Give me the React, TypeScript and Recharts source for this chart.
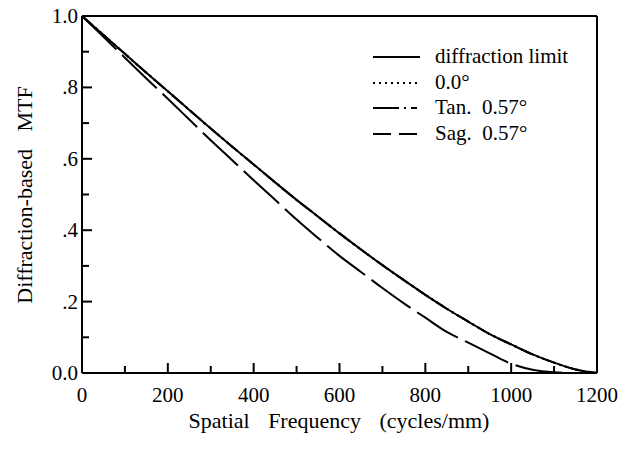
import React from "react";
import { LineChart, Line, XAxis, YAxis, ReferenceLine, Label } from "recharts";

const frequency = [0, 50, 100, 150, 200, 250, 300, 350, 400, 450, 500, 550, 600, 650, 700, 750, 800, 850, 900, 950, 1000, 1050, 1100, 1150, 1200];
const diffractionLimit = [1.0, 0.947, 0.894, 0.841, 0.789, 0.737, 0.685, 0.634, 0.584, 0.534, 0.485, 0.438, 0.391, 0.346, 0.302, 0.26, 0.219, 0.18, 0.144, 0.109, 0.08, 0.052, 0.029, 0.01, 0];
const onAxis = [1.0, 0.947, 0.894, 0.841, 0.789, 0.737, 0.685, 0.634, 0.584, 0.534, 0.485, 0.438, 0.391, 0.346, 0.302, 0.26, 0.219, 0.18, 0.144, 0.109, 0.08, 0.052, 0.029, 0.01, 0];
const tan057 = [1.0, 0.947, 0.894, 0.841, 0.789, 0.737, 0.685, 0.634, 0.584, 0.534, 0.485, 0.438, 0.391, 0.346, 0.302, 0.26, 0.219, 0.18, 0.144, 0.109, 0.08, 0.052, 0.029, 0.01, 0];
const sag057 = [1.0, 0.942, 0.883, 0.825, 0.768, 0.71, 0.652, 0.596, 0.54, 0.485, 0.43, 0.378, 0.328, 0.283, 0.238, 0.195, 0.155, 0.115, 0.085, 0.055, 0.026, 0.009, 0.002, 0, 0];

const xTicks = [0, 100, 200, 300, 400, 500, 600, 700, 800, 900, 1000, 1100, 1200];
const xTickLabels = ["0", "", "200", "", "400", "", "600", "", "800", "", "1000", "", "1200"];
const yTicks = [0, 0.1, 0.2, 0.3, 0.4, 0.5, 0.6, 0.7, 0.8, 0.9, 1.0];
const yTickLabels = ["0.0", "", ".2", "", ".4", "", ".6", "", ".8", "", "1.0"];

const seriesNames = ["diffraction limit", "0.0\u00b0", "Tan.  0.57\u00b0", "Sag.  0.57\u00b0"];
const seriesDash = [undefined, "2 4", "14 4 2 4", "48 8"];

const xTitle = "Spatial Frequency (cycles/mm)";
const yTitle = "Diffraction-based MTF";

const data = frequency.map((f, i) => ({
  f,
  d: diffractionLimit[i],
  z: onAxis[i],
  t: tan057[i],
  s: sag057[i],
}));

const FONT = "Liberation Serif, Times New Roman, Tinos, DejaVu Serif, Noto Serif, serif";

const XTick = (props: any) => {
  const { x, y, payload } = props;
  const idx = xTicks.indexOf(payload.value);
  const major = idx % 2 === 0;
  return (
    <g>
      <line x1={x} y1={y} x2={x} y2={y - (major ? 10 : 7)} stroke="#000" strokeWidth={2} />
      {xTickLabels[idx] ? (
        <text x={x} y={y + 29} textAnchor="middle" fontSize={21} style={{ fontFamily: FONT }} fill="#000">
          {xTickLabels[idx]}
        </text>
      ) : null}
    </g>
  );
};

const YTick = (props: any) => {
  const { x, y, payload } = props;
  const idx = yTicks.findIndex((v) => Math.abs(v - payload.value) < 1e-6);
  const major = idx % 2 === 0;
  return (
    <g>
      <line x1={x} y1={y} x2={x + (major ? 10 : 7)} y2={y} stroke="#000" strokeWidth={2} />
      {yTickLabels[idx] ? (
        <text x={x - 4} y={y + 7} textAnchor="end" fontSize={21} style={{ fontFamily: FONT }} fill="#000">
          {yTickLabels[idx]}
        </text>
      ) : null}
    </g>
  );
};

const XTitle = () => (
  <text x={339} y={428} textAnchor="middle" fontSize={22} fill="#000" style={{ fontFamily: FONT, wordSpacing: "13px" }}>
    {xTitle}
  </text>
);

const YTitle = () => (
  <text
    x={0}
    y={0}
    transform="translate(32,195) rotate(-90)"
    textAnchor="middle"
    fontSize={22}
    fill="#000"
    style={{ fontFamily: FONT, wordSpacing: "12px" }}
  >
    {yTitle}
  </text>
);

const legendRows = [57, 83, 108, 134];
const legendDash = [undefined, "2 4", "26 5 2 5 6", "18 8"];

const LegendOverlay = () => (
  <svg width={620} height={449} style={{ position: "absolute", left: 0, top: 0, pointerEvents: "none" }}>
    {seriesNames.map((name, i) => (
      <g key={name}>
        <line x1={373} x2={420} y1={legendRows[i]} y2={legendRows[i]} stroke="#000" strokeWidth={2} strokeDasharray={legendDash[i]} />
        <text x={435} y={legendRows[i] + 6} fontSize={21} fill="#000" style={{ fontFamily: FONT, whiteSpace: "pre" }}>
          {name}
        </text>
      </g>
    ))}
  </svg>
);

export default function App() {
  return (
    <div style={{ position: "absolute", left: 0, top: 0, width: 620, height: 449, background: "#fff", fontFamily: FONT }}>
      <LineChart width={620} height={449} data={data} margin={{ top: 16, right: 23, left: 22, bottom: 46 }}>
        <XAxis
          dataKey="f"
          type="number"
          domain={[0, 1200]}
          ticks={xTicks}
          interval={0}
          tickSize={0}
          tickMargin={0}
          tickLine={false}
          tick={<XTick />}
          axisLine={{ stroke: "#000", strokeWidth: 2 }}
          height={30}
        >
          <Label content={<XTitle />} />
        </XAxis>
        <YAxis
          type="number"
          domain={[0, 1]}
          ticks={yTicks}
          interval={0}
          tickSize={0}
          tickMargin={0}
          tickLine={false}
          tick={<YTick />}
          axisLine={{ stroke: "#000", strokeWidth: 2 }}
          width={60}
        >
          <Label content={<YTitle />} />
        </YAxis>
        <ReferenceLine y={1} stroke="#000" strokeWidth={2} />
        <ReferenceLine x={1200} stroke="#000" strokeWidth={2} />
        <Line type="monotone" dataKey="d" name={seriesNames[0]} stroke="#000" strokeWidth={2} dot={false} isAnimationActive={false} />
        <Line type="monotone" dataKey="z" name={seriesNames[1]} stroke="#000" strokeWidth={2} strokeDasharray={seriesDash[1]} dot={false} isAnimationActive={false} />
        <Line type="monotone" dataKey="t" name={seriesNames[2]} stroke="#000" strokeWidth={2} strokeDasharray={seriesDash[2]} dot={false} isAnimationActive={false} />
        <Line type="monotone" dataKey="s" name={seriesNames[3]} stroke="#000" strokeWidth={2} strokeDasharray={seriesDash[3]} dot={false} isAnimationActive={false} />
      </LineChart>
      <LegendOverlay />
    </div>
  );
}
